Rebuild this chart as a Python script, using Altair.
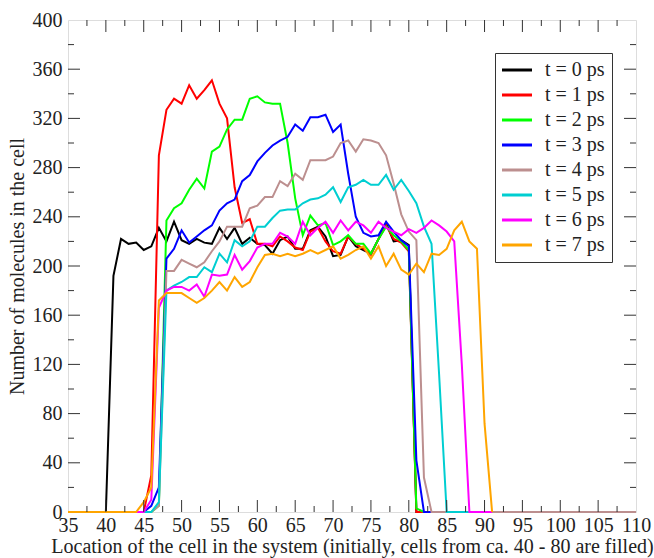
import altair as alt
import pandas as pd

FIRST_CELL = 35

series_labels = ["t = 0 ps", "t = 1 ps", "t = 2 ps", "t = 3 ps",
                 "t = 4 ps", "t = 5 ps", "t = 6 ps", "t = 7 ps"]
series_colors = ["#000000", "#FF0000", "#00FF00", "#0000FF",
                 "#BC8F8F", "#00CED1", "#FF00FF", "#FFA500"]

t0 = [0, 0, 0, 0, 0, 0,
      192, 222, 218, 219, 213, 216, 231, 220, 236, 221,
      218, 222, 219, 218, 231, 222, 231, 218, 223, 218,
      217, 210, 221, 224, 214, 214, 229, 232, 224, 208,
      209, 224, 216, 213, 210, 222, 235, 220, 221, 217,
      0, 0, 0, 0, 0, 0, 0, 0, 0, 0, 0, 0, 0, 0, 0,
      0, 0, 0, 0, 0, 0, 0, 0, 0, 0, 0, 0, 0, 0, 0]

t1 = [0, 0, 0, 0, 0, 0, 0, 0, 0, 0, 0,
      30, 290, 327, 336, 332,
      347, 336, 343, 351, 332, 320, 264, 235, 238, 218,
      218, 216, 224, 220, 215, 213, 228, 231, 220, 212,
      210, 224, 218, 214, 209, 222, 233, 222, 219, 212,
      0, 0, 0, 0, 0, 0, 0, 0, 0, 0, 0, 0, 0, 0, 0,
      0, 0, 0, 0, 0, 0, 0, 0, 0, 0, 0, 0, 0, 0, 0]

t2 = [0, 0, 0, 0, 0, 0, 0, 0, 0, 0, 0, 0,
      5, 237, 247, 251,
      262, 271, 263, 293, 297, 311, 319, 319, 336, 338,
      333, 332, 332, 300, 255, 225, 241, 233, 235, 217,
      220, 225, 218, 218, 210, 222, 232, 225, 220, 213,
      3,
      0, 0, 0, 0, 0, 0, 0, 0, 0, 0, 0, 0, 0, 0,
      0, 0, 0, 0, 0, 0, 0, 0, 0, 0, 0, 0, 0, 0, 0]

t3 = [0, 0, 0, 0, 0, 0, 0, 0, 0, 0, 0,
      5, 20, 206, 214, 229,
      219, 224, 229, 233, 245, 251, 254, 269, 274, 285,
      292, 298, 302, 305, 315, 310, 321, 321, 323, 309,
      315, 275, 240, 227, 224, 225, 236, 228, 221, 216,
      42,
      0, 0, 0, 0, 0, 0, 0, 0, 0, 0, 0, 0, 0, 0,
      0, 0, 0, 0, 0, 0, 0, 0, 0, 0, 0, 0, 0, 0, 0]

t4 = [0, 0, 0, 0, 0, 0, 0, 0, 0, 0, 0, 0,
      5, 196, 196, 205,
      202, 199, 203, 212, 220, 232, 232, 232, 247, 249,
      256, 256, 269, 265, 275, 270, 286, 286, 286, 289,
      300, 302, 293, 303, 302, 300, 290, 267, 242, 228,
      221, 28,
      0, 0, 0, 0, 0, 0, 0, 0, 0, 0, 0, 0, 0,
      0, 0, 0, 0, 0, 0, 0, 0, 0, 0, 0, 0, 0, 0, 0]

t5 = [0, 0, 0, 0, 0, 0, 0, 0, 0, 0, 0, 0,
      8, 180, 184, 187,
      191, 191, 199, 195, 210, 203, 221, 216, 220, 232,
      232, 239, 245, 246, 246, 251, 254, 255, 258, 264,
      252, 264, 266, 270, 266, 266, 274, 262, 270, 261,
      251, 232, 218, 112,
      0, 0, 0, 0]

t6 = [0, 0, 0, 0, 0, 0, 0, 0, 0, 0, 0,
      10, 166, 180, 183, 183,
      180, 185, 175, 193, 192, 193, 209, 197, 204, 215,
      218, 218, 227, 224, 218, 236, 225, 231, 236, 227,
      237, 229, 236, 233, 227, 236, 231, 228, 225, 230,
      227, 231, 237, 233, 228, 220, 120,
      0, 0, 0, 0]

t7 = [0, 0, 0, 0, 0, 0, 0, 0, 0, 0,
      8, 20, 172, 178, 178, 178,
      174, 170, 174, 180, 187, 180, 191, 183, 187, 199,
      209, 210, 208, 210, 208, 210, 213, 210, 213, 216,
      206, 209, 213, 216, 206, 216, 200, 210, 197, 193,
      202, 195, 210, 209, 214, 229, 236, 220, 214, 72,
      0]

x_major = [35, 40, 45, 50, 55, 60, 65, 70, 75, 80, 85, 90, 95, 100, 105, 110]
x_minor = [37.5, 42.5, 47.5, 52.5, 57.5, 62.5, 67.5, 72.5, 77.5, 82.5,
           87.5, 92.5, 97.5, 102.5, 107.5]
y_major = [0, 40, 80, 120, 160, 200, 240, 280, 320, 360, 400]
y_minor = [20, 60, 100, 140, 180, 220, 260, 300, 340, 380]

x_title = "Location of the cell in the system (initially, cells from ca. 40 - 80 are filled)"
y_title = "Number of molecules in the cell"

all_series = [t0, t1, t2, t3, t4, t5, t6, t7]
rows = []
for k, (lab, vals) in enumerate(zip(series_labels, all_series)):
    for i, v in enumerate(vals):
        rows.append({"cell": FIRST_CELL + i, "n": v, "series": lab, "order": k})
df = pd.DataFrame(rows)

W, H = 568, 492
FONT = "Liberation Serif"
TXT = "#222"

xscale = alt.Scale(domain=[35, 110], nice=False, zero=False)
yscale = alt.Scale(domain=[0, 400], nice=False)

x_axis = alt.Axis(values=x_major, format="d", ticks=False, domain=False,
                  grid=False, labelFontSize=20, labelFont=FONT,
                  labelColor=TXT, labelPadding=3, labelFlush=False,
                  labelOverlap=False, labelBound=False,
                  title=x_title, titleFont=FONT, titleFontSize=20,
                  titleFontWeight="normal", titleColor=TXT, titlePadding=1)
y_axis = alt.Axis(values=y_major, format="d", ticks=False, domain=False,
                  grid=False, labelFontSize=20, labelFont=FONT,
                  labelColor=TXT, labelPadding=6, labelFlush=False,
                  labelOverlap=False,
                  title=y_title, titleFont=FONT, titleFontSize=20,
                  titleFontWeight="normal", titleColor=TXT, titlePadding=5)

lines = alt.Chart(df).mark_line(strokeWidth=2).encode(
    x=alt.X("cell:Q", scale=xscale, axis=x_axis),
    y=alt.Y("n:Q", scale=yscale, axis=y_axis),
    color=alt.Color("series:N", scale=alt.Scale(domain=series_labels, range=series_colors),
                    legend=alt.Legend(title=None, orient="none", legendX=427, legendY=33,
                                      symbolType="M-2,0H4", symbolSize=100,
                                      symbolStrokeWidth=3, labelFont=FONT,
                                      labelFontSize=20, labelColor=TXT,
                                      labelOffset=23, rowPadding=5,
                                      padding=7, strokeColor="#333",
                                      fillColor="white", cornerRadius=0)),
    order=alt.Order("order:Q"),
    detail="series:N",
)

xmaj = pd.DataFrame({"v": x_major[1:-1]})
xmin = pd.DataFrame({"v": x_minor})
ymaj = pd.DataFrame({"v": y_major[1:-1]})
ymin = pd.DataFrame({"v": y_minor})

TC = "#333"
MAJ, MIN = 12, 6


def xticks(d, length):
    b = alt.Chart(d).mark_rule(color=TC, strokeWidth=1).encode(
        x=alt.X("v:Q", scale=xscale, axis=x_axis), y=alt.value(H), y2=alt.value(H - length))
    t = alt.Chart(d).mark_rule(color=TC, strokeWidth=1).encode(
        x=alt.X("v:Q", scale=xscale, axis=x_axis), y=alt.value(0), y2=alt.value(length))
    return b + t


def yticks(d, length):
    l = alt.Chart(d).mark_rule(color=TC, strokeWidth=1).encode(
        y=alt.Y("v:Q", scale=yscale, axis=y_axis), x=alt.value(0), x2=alt.value(length))
    r = alt.Chart(d).mark_rule(color=TC, strokeWidth=1).encode(
        y=alt.Y("v:Q", scale=yscale, axis=y_axis), x=alt.value(W), x2=alt.value(W - length))
    return l + r


chart = alt.layer(
    lines,
    xticks(xmaj, MAJ), xticks(xmin, MIN), yticks(ymaj, MAJ), yticks(ymin, MIN),
).properties(
    width=W, height=H,
    autosize=alt.AutoSizeParams(type="none"),
    padding={"left": 68, "top": 20, "right": 18, "bottom": 46},
).configure_view(
    stroke="#333", strokeWidth=1.5
).configure(background="white")

chart.save("out.html", embed_options={"renderer": "svg", "actions": False})
